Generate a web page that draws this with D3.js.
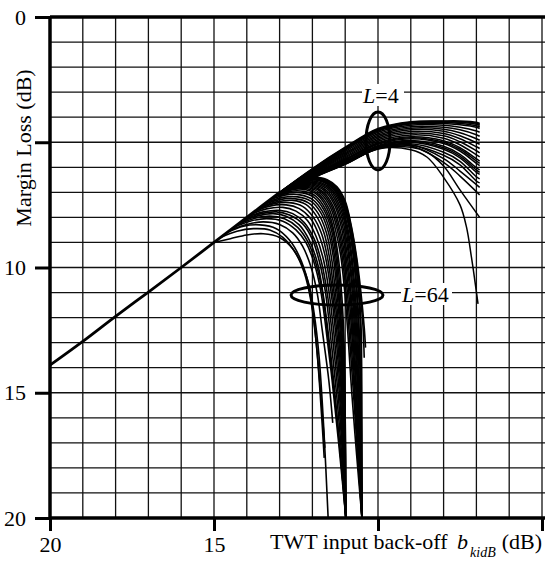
<!DOCTYPE html>
<html>
<head>
<meta charset="utf-8">
<script src="https://cdn.jsdelivr.net/npm/d3@7"></script>
<style>
  body { margin: 0; background: #fff; }
  svg { display: block; }
  text { font-family: "Liberation Serif", "Times New Roman", serif; fill: #000; }
</style>
</head>
<body>
<div id="chart"></div>
<script>
// x: TWT input back-off (dB), reversed; y: margin loss (dB), down
const xTickLabels = [20, 15];
const xTickMarks = [20, 15, 10, 5];
const yTickLabels = [0, 10, 15, 20];
const yTickMarks = [0, 5, 10, 15, 20];

// common linear part shared by every curve
const mainLine = [[20, 13.9], [19, 12.95], [18, 11.95], [17, 10.98], [16, 10.0], [15, 9.0], [14, 8.0], [13, 7.0]];

// L=4 family: margin loss at these back-off values
const l4BackOff = [13, 12, 11, 10, 9, 8, 7.5, 7, 6.9];
const l4Body = [
    [7.0, 6.05, 5.2, 4.45, 4.18, 4.15, 4.15, 4.2, 4.25],
    [7.0, 6.07, 5.22, 4.48, 4.2, 4.16, 4.18, 4.24, 4.29],
    [7.0, 6.08, 5.24, 4.5, 4.22, 4.18, 4.2, 4.28, 4.33],
    [7.01, 6.09, 5.26, 4.52, 4.24, 4.21, 4.25, 4.34, 4.39],
    [7.02, 6.1, 5.28, 4.55, 4.27, 4.25, 4.3, 4.4, 4.45],
    [7.03, 6.13, 5.32, 4.6, 4.32, 4.32, 4.4, 4.55, 4.6],
    [7.04, 6.16, 5.37, 4.66, 4.38, 4.4, 4.5, 4.7, 4.76],
    [7.05, 6.19, 5.42, 4.72, 4.44, 4.48, 4.62, 4.86, 4.92],
    [7.06, 6.22, 5.47, 4.78, 4.5, 4.56, 4.74, 5.02, 5.08],
    [7.07, 6.25, 5.52, 4.84, 4.57, 4.65, 4.86, 5.18, 5.25],
    [7.08, 6.28, 5.57, 4.9, 4.64, 4.74, 4.98, 5.34, 5.42],
    [7.09, 6.3, 5.62, 4.96, 4.71, 4.84, 5.1, 5.5, 5.58],
    [7.1, 6.32, 5.67, 5.02, 4.78, 4.94, 5.22, 5.66, 5.75],
    [7.1, 6.33, 5.7, 5.05, 4.82, 5.0, 5.28, 5.75, 5.84],
    [7.11, 6.34, 5.72, 5.08, 4.86, 5.05, 5.35, 5.84, 5.93],
    [7.12, 6.36, 5.76, 5.13, 4.93, 5.16, 5.48, 6.02, 6.1],
    [7.12, 6.37, 5.78, 5.16, 4.97, 5.22, 5.55, 6.11, 6.2],
    [7.13, 6.38, 5.8, 5.18, 5.0, 5.28, 5.62, 6.2, 6.28],
    [7.14, 6.4, 5.83, 5.22, 5.06, 5.4, 5.76, 6.38, 6.46],
    [7.15, 6.42, 5.86, 5.25, 5.12, 5.52, 5.9, 6.55, 6.62]
];
// L=4 curves that break away from the band
const l4Strays = [
    [[13, 7.15], [12, 6.44], [11, 5.88], [10, 5.27], [9, 5.3], [8.5, 5.6], [8.0, 6.4], [7.5, 7.5], [7.3, 8.4], [7.15, 9.6], [7.05, 10.5], [6.95, 11.45]],
    [[13, 7.15], [12, 6.43], [11, 5.87], [10, 5.26], [9, 5.2], [8.5, 5.4], [8.0, 5.95], [7.5, 6.9], [6.9, 8.0]],
    [[13, 7.14], [12, 6.42], [11, 5.86], [10, 5.24], [9, 5.15], [8.0, 5.8], [7.5, 6.35], [6.9, 7.1]],
    [[13, 7.14], [12, 6.41], [11, 5.84], [10, 5.22], [9, 5.1], [8.0, 5.65], [7.5, 6.15], [6.9, 6.8]]
];

// L=64 family: each curve leaves the common line and falls away
const l64Curves = [
    [[15.0, 9.0], [14.5, 8.85], [14.0, 8.7], [13.5, 8.65], [13.0, 8.8], [12.6, 9.25], [12.3, 9.95], [12.1, 10.7], [11.95, 11.8], [11.8, 13.5], [11.65, 16.5], [11.52, 20]],
    [[14.8, 8.8], [14.3, 8.55], [13.8, 8.45], [13.3, 8.5], [12.9, 8.8], [12.5, 9.45], [12.25, 10.2], [12.05, 11.3], [11.9, 12.8], [11.75, 15], [11.62, 17.2]],
    [[14.6, 8.6], [14.1, 8.35], [13.6, 8.3], [13.1, 8.45], [12.7, 8.9], [12.4, 9.55], [12.15, 10.5], [11.98, 11.8], [11.85, 13.5], [11.7, 16.3], [11.64, 17.6]],
    [[14.5, 8.5], [14.0, 8.28], [13.5, 8.18], [13.0, 8.28], [12.6, 8.62], [12.3, 9.15], [12.05, 9.95], [11.85, 11.05], [11.7, 12.5], [11.5, 14.5], [11.38, 16.2]],
    [[14.4, 8.4], [13.9, 8.15], [13.4, 8.05], [12.9, 8.15], [12.5, 8.5], [12.2, 9.0], [11.95, 9.8], [11.75, 10.9], [11.6, 12.3], [11.4, 14.5], [11.2, 17], [10.98, 20]],
    [[14.3, 8.3], [13.8, 8.05], [13.3, 7.95], [12.85, 8.05], [12.45, 8.4], [12.15, 8.95], [11.9, 9.8], [11.7, 10.95], [11.55, 12.5], [11.35, 14.8], [11.15, 17.4], [10.98, 20]],
    [[14.2, 8.2], [13.7, 7.95], [13.2, 7.85], [12.8, 7.95], [12.4, 8.3], [12.1, 8.9], [11.85, 9.8], [11.68, 11], [11.5, 12.8], [11.3, 15.2], [11.12, 17.8], [10.98, 20]],
    [[14.1, 8.1], [13.6, 7.86], [13.1, 7.78], [12.7, 7.9], [12.3, 8.25], [12.0, 8.88], [11.78, 9.8], [11.6, 11], [11.45, 12.7], [11.26, 15.1], [11.1, 17.6], [10.98, 20]],
    [[14.0, 8.0], [13.5, 7.78], [13.0, 7.72], [12.6, 7.85], [12.25, 8.2], [11.95, 8.85], [11.72, 9.8], [11.55, 11], [11.4, 12.6], [11.22, 15], [11.08, 17.5], [10.98, 20]],
    [[13.9, 7.9], [13.4, 7.66], [12.9, 7.6], [12.5, 7.75], [12.15, 8.12], [11.88, 8.78], [11.66, 9.7], [11.5, 10.9], [11.35, 12.55], [11.18, 15], [11.06, 17.5], [10.98, 20]],
    [[13.8, 7.8], [13.3, 7.55], [12.8, 7.5], [12.4, 7.65], [12.05, 8.05], [11.8, 8.7], [11.6, 9.6], [11.45, 10.8], [11.3, 12.5], [11.15, 15], [11.05, 17.5], [10.98, 20]],
    [[13.7, 7.7], [13.2, 7.46], [12.7, 7.41], [12.3, 7.56], [11.98, 7.98], [11.72, 8.65], [11.54, 9.6], [11.4, 10.85], [11.26, 12.5], [11.12, 15], [11.03, 17.5], [10.98, 20]],
    [[13.6, 7.6], [13.1, 7.38], [12.6, 7.32], [12.2, 7.48], [11.9, 7.9], [11.65, 8.6], [11.48, 9.6], [11.35, 10.9], [11.22, 12.5], [11.1, 15], [11.02, 17.5], [10.98, 20]],
    [[13.5, 7.5], [13.0, 7.29], [12.55, 7.25], [12.12, 7.42], [11.82, 7.85], [11.58, 8.58], [11.42, 9.6], [11.3, 10.95], [11.18, 12.65], [11.07, 15.2], [10.98, 20]],
    [[13.4, 7.4], [12.9, 7.2], [12.45, 7.18], [12.05, 7.35], [11.75, 7.8], [11.52, 8.55], [11.36, 9.6], [11.25, 11], [11.14, 12.8], [11.05, 15.5], [10.98, 20]],
    [[13.3, 7.3], [12.8, 7.1], [12.38, 7.1], [12.0, 7.28], [11.7, 7.75], [11.47, 8.52], [11.32, 9.6], [11.21, 11.05], [11.11, 12.9], [11.03, 15.8], [10.98, 20]],
    [[13.2, 7.2], [12.7, 7.02], [12.3, 7.02], [11.95, 7.2], [11.65, 7.7], [11.42, 8.5], [11.28, 9.6], [11.18, 11.1], [11.08, 13], [11.01, 16], [10.98, 20]],
    [[13.1, 7.1], [12.65, 6.95], [12.25, 6.96], [11.9, 7.15], [11.6, 7.68], [11.38, 8.5], [11.24, 9.65], [11.14, 11.15], [11.05, 13.1], [11.0, 16], [10.98, 20]],
    [[13.0, 7.0], [12.6, 6.88], [12.2, 6.9], [11.85, 7.1], [11.55, 7.65], [11.35, 8.5], [11.2, 9.7], [11.1, 11.2], [11.03, 13.2], [11.0, 16], [10.98, 20]],
    [[12.95, 6.95], [12.55, 6.85], [12.15, 6.86], [11.8, 7.08], [11.5, 7.63], [11.3, 8.48], [11.14, 9.5], [11.02, 10.9], [10.92, 12.6], [10.8, 15], [10.65, 17.5], [10.49, 20]],
    [[12.9, 6.9], [12.5, 6.8], [12.1, 6.82], [11.75, 7.05], [11.45, 7.6], [11.25, 8.45], [11.1, 9.5], [10.98, 10.9], [10.88, 12.6], [10.75, 15], [10.62, 17.5], [10.49, 20]],
    [[12.85, 6.86], [12.45, 6.76], [12.05, 6.79], [11.7, 7.02], [11.41, 7.57], [11.21, 8.42], [11.06, 9.5], [10.94, 10.9], [10.84, 12.6], [10.72, 15], [10.61, 17.5], [10.49, 20]],
    [[12.8, 6.82], [12.4, 6.72], [12.0, 6.76], [11.65, 7.0], [11.37, 7.55], [11.17, 8.4], [11.02, 9.5], [10.9, 10.9], [10.8, 12.6], [10.7, 15], [10.6, 17.5], [10.49, 20]],
    [[12.75, 6.77], [12.35, 6.68], [11.95, 6.73], [11.6, 6.97], [11.32, 7.52], [11.12, 8.38], [10.98, 9.5], [10.86, 10.9], [10.77, 12.6], [10.67, 15], [10.58, 17.5], [10.49, 20]],
    [[12.7, 6.72], [12.3, 6.64], [11.9, 6.7], [11.55, 6.95], [11.28, 7.5], [11.08, 8.35], [10.94, 9.5], [10.83, 10.9], [10.74, 12.6], [10.65, 15], [10.56, 17.5], [10.49, 20]],
    [[12.65, 6.68], [12.25, 6.6], [11.85, 6.67], [11.5, 6.92], [11.24, 7.47], [11.04, 8.32], [10.9, 9.5], [10.79, 10.9], [10.71, 12.6], [10.62, 15], [10.55, 17.5], [10.49, 20]],
    [[12.6, 6.64], [12.2, 6.57], [11.8, 6.64], [11.45, 6.9], [11.2, 7.45], [11.0, 8.3], [10.87, 9.5], [10.76, 10.9], [10.68, 12.6], [10.6, 15], [10.54, 17.5], [10.49, 20]],
    [[12.55, 6.6], [12.15, 6.53], [11.75, 6.61], [11.42, 6.87], [11.16, 7.42], [10.97, 8.3], [10.83, 9.5], [10.73, 10.9], [10.65, 12.6], [10.58, 15], [10.53, 17.5], [10.49, 20]],
    [[12.5, 6.55], [12.1, 6.5], [11.7, 6.58], [11.38, 6.85], [11.13, 7.4], [10.94, 8.3], [10.8, 9.5], [10.7, 10.9], [10.62, 12.6], [10.56, 15], [10.52, 17.5], [10.49, 20]],
    [[12.45, 6.5], [12.05, 6.47], [11.68, 6.56], [11.35, 6.83], [11.1, 7.39], [10.9, 8.3], [10.76, 9.5], [10.66, 10.9], [10.59, 12.6], [10.53, 15], [10.51, 17.5], [10.49, 20]],
    [[12.4, 6.46], [12.0, 6.44], [11.65, 6.55], [11.33, 6.82], [11.08, 7.38], [10.88, 8.3], [10.74, 9.5], [10.64, 10.9], [10.57, 12.6], [10.52, 15], [10.5, 17.5], [10.49, 20]],
    [[12.35, 6.42], [11.98, 6.42], [11.62, 6.53], [11.32, 6.81], [11.06, 7.36], [10.86, 8.3], [10.72, 9.5], [10.6, 10.9], [10.53, 12.6], [10.5, 15], [10.495, 17.5], [10.49, 20]],
    [[12.3, 6.37], [11.95, 6.4], [11.6, 6.52], [11.3, 6.8], [11.05, 7.35], [10.85, 8.3], [10.7, 9.5], [10.58, 10.9], [10.51, 12.6], [10.5, 15], [10.495, 17.5], [10.49, 20]],
    [[12.25, 6.32], [11.92, 6.39], [11.57, 6.51], [11.27, 6.79], [11.02, 7.35], [10.83, 8.3], [10.67, 9.55], [10.55, 10.95], [10.46, 12.3], [10.42, 13.6]],
    [[12.2, 6.28], [11.9, 6.38], [11.55, 6.5], [11.25, 6.78], [11.0, 7.35], [10.82, 8.3], [10.65, 9.6], [10.52, 11], [10.42, 12.4], [10.38, 13.2]]
];

const width = 545, height = 570;
const svg = d3.select("#chart").append("svg")
    .attr("width", width)
    .attr("height", height);

const x = d3.scaleLinear().domain([20, 5]).range([50, 542]);
const y = d3.scaleLinear().domain([0, 20]).range([17, 518]);

// grid
svg.append("g")
    .selectAll("line")
    .data(d3.range(19, 4, -1))
    .join("line")
    .attr("x1", d => x(d)).attr("x2", d => x(d))
    .attr("y1", y(0)).attr("y2", y(20))
    .attr("stroke", "#111").attr("stroke-width", 1.3);
svg.append("g")
    .selectAll("line")
    .data(d3.range(1, 20))
    .join("line")
    .attr("x1", x(20)).attr("x2", width)
    .attr("y1", d => y(d)).attr("y2", d => y(d))
    .attr("stroke", "#111").attr("stroke-width", 1.3);

// axes
const yAxis = svg.append("g")
    .attr("transform", `translate(${x(20)},0)`)
    .call(d3.axisLeft(y).tickValues(yTickMarks).tickSize(15).tickPadding(9)
        .tickFormat(d => yTickLabels.includes(d) ? d : ""));
const xAxis = svg.append("g")
    .attr("transform", `translate(0,${y(20)})`)
    .call(d3.axisBottom(x).tickValues(xTickMarks).tickSize(13).tickPadding(5)
        .tickFormat(d => xTickLabels.includes(d) ? d : ""));
[yAxis, xAxis].forEach(g => {
    g.select(".domain").remove();
    g.selectAll(".tick line").attr("stroke", "#000").attr("stroke-width", 3);
    g.selectAll(".tick text").style("font-size", "22px").attr("fill", "#000");
});

// frame lines
svg.append("line").attr("x1", x(20)).attr("x2", width).attr("y1", y(0)).attr("y2", y(0))
    .attr("stroke", "#000").attr("stroke-width", 3.5);
svg.append("line").attr("x1", x(20)).attr("x2", width).attr("y1", y(20)).attr("y2", y(20))
    .attr("stroke", "#000").attr("stroke-width", 3.5);
svg.append("line").attr("x1", x(20)).attr("x2", x(20)).attr("y1", y(0) - 1).attr("y2", y(20))
    .attr("stroke", "#000").attr("stroke-width", 3.5);

// curves
const line = d3.line()
    .x(d => x(d[0]))
    .y(d => y(d[1]))
    .curve(d3.curveCatmullRom.alpha(0.5));

const l4Curves = l4Body.map(row => row.map((m, i) => [l4BackOff[i], m])).concat(l4Strays);

const curves = svg.append("g").attr("fill", "none").attr("stroke", "#000");
curves.selectAll("path.l4")
    .data(l4Curves)
    .join("path")
    .attr("class", "l4")
    .attr("d", line)
    .attr("stroke-width", 1.5);
curves.selectAll("path.l64")
    .data(l64Curves)
    .join("path")
    .attr("class", "l64")
    .attr("d", line)
    .attr("stroke-width", 1.6);
curves.append("path")
    .datum(mainLine)
    .attr("d", line)
    .attr("stroke-width", 2.8);

// ellipses and labels
svg.append("ellipse")
    .attr("cx", x(10)).attr("cy", y(4.95))
    .attr("rx", 12).attr("ry", 29)
    .attr("fill", "none").attr("stroke", "#000").attr("stroke-width", 3);
svg.append("ellipse")
    .attr("cx", x(11.25)).attr("cy", y(11.1))
    .attr("rx", 46).attr("ry", 10)
    .attr("fill", "none").attr("stroke", "#000").attr("stroke-width", 3);

svg.append("rect").attr("x", 362).attr("y", 84).attr("width", 42).attr("height", 22).attr("fill", "#fff");
svg.append("rect").attr("x", 401).attr("y", 283).attr("width", 51).attr("height", 22).attr("fill", "#fff");

const lab4 = svg.append("text").attr("x", 363).attr("y", 103).style("font-size", "22px");
lab4.append("tspan").style("font-style", "italic").text("L");
lab4.append("tspan").text("=4");
const lab64 = svg.append("text").attr("x", 402).attr("y", 302).style("font-size", "22px");
lab64.append("tspan").style("font-style", "italic").text("L");
lab64.append("tspan").text("=64");

// axis titles
svg.append("text")
    .attr("transform", "rotate(-90)")
    .attr("x", -148).attr("y", 31)
    .attr("text-anchor", "middle")
    .style("font-size", "22px")
    .text("Margin Loss (dB)");

const xTitle = svg.append("text").attr("x", 270).attr("y", 549).style("font-size", "22px");
xTitle.append("tspan").text("TWT input back-off ");
xTitle.append("tspan").attr("dx", 4).style("font-style", "italic").text("b");
xTitle.append("tspan").attr("dx", 2).attr("dy", 8).style("font-size", "14px").style("font-style", "italic").text("kidB");
xTitle.append("tspan").attr("dy", -8).attr("dx", 6).text("(dB)");
</script>
</body>
</html>
